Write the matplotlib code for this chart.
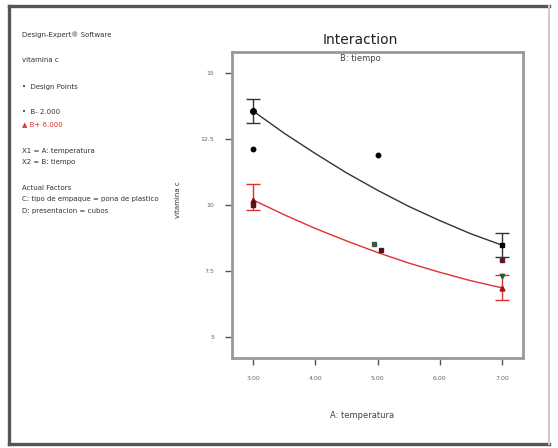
import matplotlib.pyplot as plt
from matplotlib.lines import Line2D

# predicted vitamina c along temperatura (model curves)
curve_x = [3.0, 3.5, 4.0, 4.5, 5.0, 5.5, 6.0, 6.5, 7.0]
curve_low = [13.56, 12.72, 11.95, 11.22, 10.56, 9.95, 9.41, 8.91, 8.48]   # B- 2.000
curve_high = [10.19, 9.63, 9.11, 8.64, 8.20, 7.80, 7.45, 7.13, 6.86]    # B+ 6.000

# LSD bars at the ends
bar_x = [3.0, 7.0]
low_mean = [13.56, 8.48]
low_lo = [13.10, 8.02]
low_hi = [14.00, 8.94]
high_mean = [10.19, 6.86]
high_lo = [9.80, 6.40]
high_hi = [10.80, 7.35]

# design points
pts_x = [3.0, 5.0, 3.0, 3.0, 4.95, 5.05, 7.0, 7.0]
pts_y = [12.12, 11.90, 10.10, 10.00, 8.52, 8.28, 7.92, 7.30]
pts_c = ['black', 'black', '#3a1010', '#5a1515', '#3d5a3d', '#4a1a1a', '#5a1a22', '#2e5a2e']
pts_m = ['o', 'o', '^', 's', 's', 's', 's', 'v']

x_ticks = [3, 4, 5, 6, 7]
x_labels = ['3.00', '4.00', '5.00', '6.00', '7.00']
y_ticks = [5, 7.5, 10, 12.5, 15]
y_labels = ['5', '7.5', '10', '12.5', '15']

fig = plt.figure(figsize=(5.58, 4.48), dpi=100)

# window frame: dark on left/top/bottom, faint on the right
for xs, ys, c, w in [([0.017, 0.017], [0.008, 0.987], '#555555', 2.4),
                     ([0.017, 0.984], [0.987, 0.987], '#555555', 2.4),
                     ([0.017, 0.984], [0.008, 0.008], '#555555', 2.4),
                     ([0.984, 0.984], [0.008, 0.987], '#cccccc', 1.5)]:
    fig.lines.append(Line2D(xs, ys, transform=fig.transFigure, color=c, linewidth=w))

ax = fig.add_axes([0.4158, 0.2009, 0.5215, 0.683])
ax.plot(curve_x, curve_low, color='#333333', linewidth=1.0)
ax.plot(curve_x, curve_high, color='#e03030', linewidth=1.0)

ax.errorbar(bar_x, low_mean, yerr=[[m - l for m, l in zip(low_mean, low_lo)],
                                   [h - m for m, h in zip(low_mean, low_hi)]],
            fmt='none', ecolor='#333333', elinewidth=1.0, capsize=5, capthick=1.0)
ax.errorbar(bar_x, high_mean, yerr=[[m - l for m, l in zip(high_mean, high_lo)],
                                    [h - m for m, h in zip(high_mean, high_hi)]],
            fmt='none', ecolor='#e03030', elinewidth=1.0, capsize=5, capthick=1.0)
ax.plot(bar_x[:1], low_mean[:1], 'o', color='black', markersize=4)
ax.plot(bar_x[1:], low_mean[1:], 's', color='black', markersize=3.5)
ax.plot(bar_x, high_mean, '^', color='#a01010', markersize=3.5)

for x, y, c, m in zip(pts_x, pts_y, pts_c, pts_m):
    ax.plot(x, y, m, color=c, markersize=3.2)

ax.set_xlim(2.66, 7.34)
ax.set_ylim(4.2, 15.8)
ax.set_xticks(x_ticks)
ax.set_xticklabels(x_labels)
ax.set_yticks(y_ticks)
ax.set_yticklabels(y_labels)
ax.tick_params(direction='out', length=5, width=1, color='#555555', labelsize=4.5,
               labelcolor='#666666', pad=8)
for s in ax.spines.values():
    s.set_color('#999999')
    s.set_linewidth(2)

fig.text(0.645, 0.91, 'Interaction', fontsize=10, ha='center', va='center', color='#222222')
fig.text(0.645, 0.87, 'B: tiempo', fontsize=6, ha='center', va='center', color='#444444')
fig.text(0.649, 0.072, 'A: temperatura', fontsize=6, ha='center', va='center', color='#444444')
fig.text(0.319, 0.555, 'vitamina c', fontsize=5, rotation=90, ha='center', va='center', color='#333333')

left = [
    (0.922, 'Design-Expert® Software', '#333333'),
    (0.866, 'vitamina c', '#333333'),
    (0.806, '•  Design Points', '#333333'),
    (0.750, '•  B- 2.000', '#333333'),
    (0.724, '▲ B+ 6.000', '#e03030'),
    (0.663, 'X1 = A: temperatura', '#333333'),
    (0.638, 'X2 = B: tiempo', '#333333'),
    (0.580, 'Actual Factors', '#333333'),
    (0.555, 'C: tipo de empaque = pona de plastico', '#333333'),
    (0.529, 'D: presentacion = cubos', '#333333'),
]
for y, s, c in left:
    fig.text(0.04, y, s, fontsize=5, ha='left', va='center', color=c)

fig.savefig('out.png', dpi=100)
